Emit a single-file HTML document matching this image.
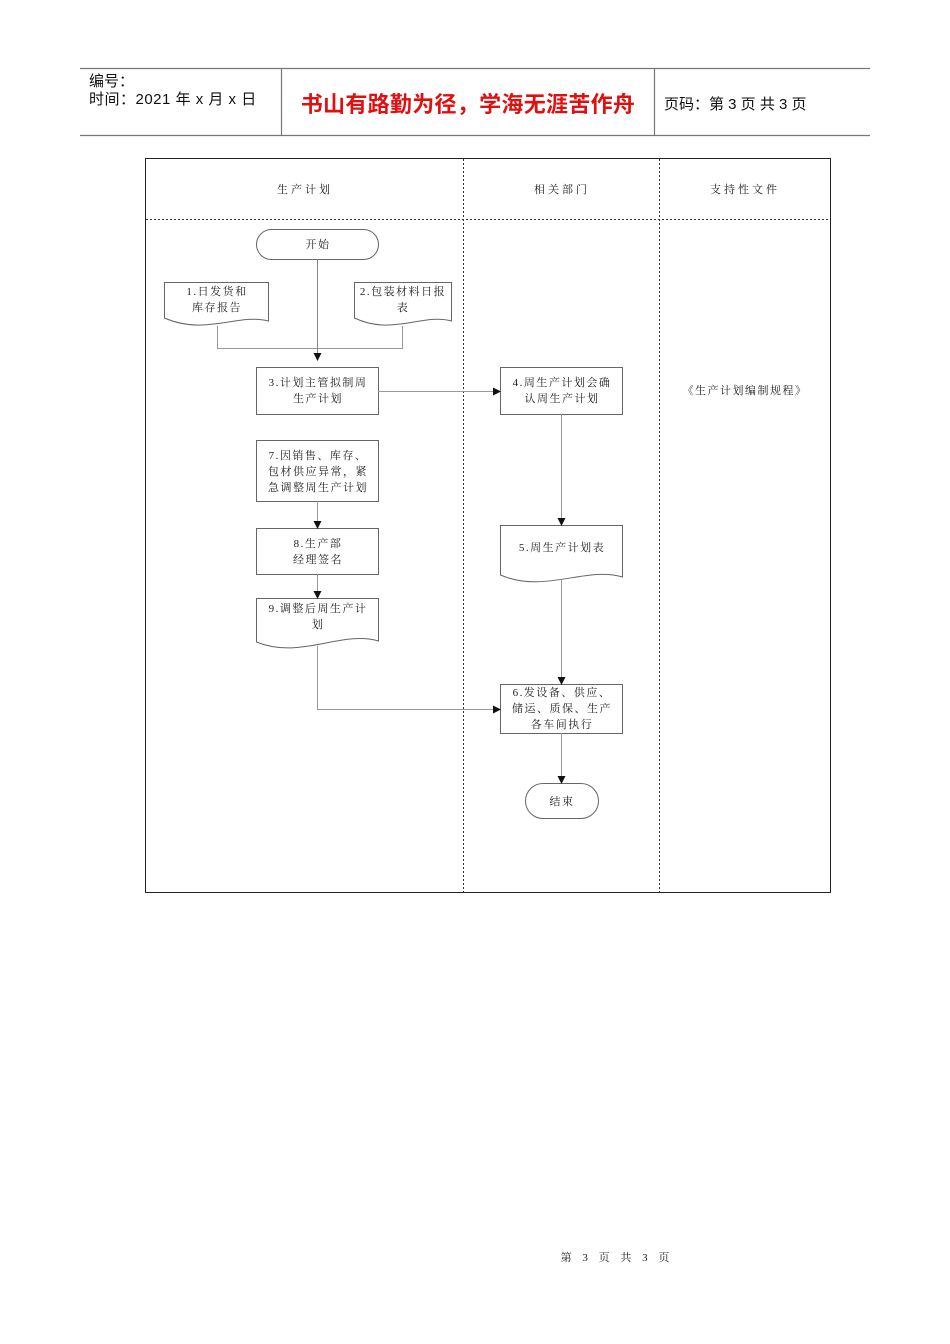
<!DOCTYPE html>
<html><head><meta charset="utf-8"><style>
html,body{margin:0;padding:0;background:#fff;width:950px;height:1344px;overflow:hidden}
svg{display:block}
.s{font-family:"Liberation Serif","Noto Serif CJK SC",serif;font-size:11px;fill:#222;letter-spacing:1.5px}
.h{font-family:"Liberation Sans","Noto Sans CJK SC",sans-serif;fill:#111}
</style></head><body>
<svg width="950" height="1344" viewBox="0 0 950 1344" xmlns="http://www.w3.org/2000/svg">
<defs><marker id="a" markerWidth="8" markerHeight="8" refX="7" refY="4" orient="auto" markerUnits="userSpaceOnUse"><path d="M0,0 L8,4 L0,8z" fill="#111"/></marker></defs>
<g stroke="#777" stroke-width="1.2">
<line x1="80" y1="68.5" x2="870" y2="68.5"/><line x1="80" y1="135.5" x2="870" y2="135.5"/>
<line x1="281.5" y1="68" x2="281.5" y2="135"/><line x1="654.5" y1="68" x2="654.5" y2="135"/>
</g>
<text class="h" x="89" y="86" font-size="15">编号：</text>
<text class="h" x="89" y="104" font-size="15" letter-spacing="0.5">时间：2021 年 x 月 x 日</text>
<text class="h" x="468" y="112" font-size="22" font-weight="bold" style="fill:#e01010" text-anchor="middle" letter-spacing="0.3">书山有路勤为径，学海无涯苦作舟</text>
<text class="h" x="664" y="109" font-size="15">页码：第 3 页  共 3 页</text>
<rect x="145.5" y="158.5" width="685" height="734" fill="none" stroke="#222"/>
<g stroke="#333" stroke-dasharray="2,2">
<line x1="146" y1="219.5" x2="830" y2="219.5"/>
<line x1="463.5" y1="159" x2="463.5" y2="892"/>
<line x1="659.5" y1="159" x2="659.5" y2="892"/>
</g>
<g class="s" text-anchor="middle" style="letter-spacing:3px">
<text x="305" y="193">生产计划</text>
<text x="562" y="193">相关部门</text>
<text x="745" y="193">支持性文件</text>
</g>
<g fill="#fff" stroke="#666" stroke-width="1">
<rect x="256.5" y="229.5" width="122" height="30" rx="15"/>
<path d="M164.5,282.5 H268.5 V321 C238,313 205,336 164.5,318 Z"/>
<path d="M354.5,282.5 H451.5 V321 C423,313 392,336 354.5,318 Z"/>
<rect x="256.5" y="367.5" width="122" height="47"/>
<rect x="500.5" y="367.5" width="122" height="47"/>
<rect x="256.5" y="440.5" width="122" height="61"/>
<rect x="256.5" y="528.5" width="122" height="46"/>
<path d="M256.5,598.5 H378.5 V641 C342,630 300,660 256.5,642 Z"/>
<path d="M500.5,525.5 H622.5 V577 C586,566 544,594 500.5,575 Z"/>
<rect x="500.5" y="684.5" width="122" height="49"/>
<rect x="525.5" y="783.5" width="73" height="35" rx="17.5"/>
</g>
<g stroke="#999" fill="none" stroke-width="1">
<path d="M217.5,326 V348.5 H402.5 V326"/>
<path d="M317.5,259 V360" stroke="#888" marker-end="url(#a)"/>
<path d="M378,391.5 H500" marker-end="url(#a)"/>
<path d="M561.5,414 V525" marker-end="url(#a)"/>
<path d="M561.5,580 V684" marker-end="url(#a)"/>
<path d="M561.5,733 V783" marker-end="url(#a)"/>
<path d="M317.5,501 V528" marker-end="url(#a)"/>
<path d="M317.5,574 V598" marker-end="url(#a)"/>
<path d="M317.5,646 V709.5 H500" marker-end="url(#a)"/>
</g>
<g class="s" text-anchor="middle">
<text x="318" y="248">开始</text>
<text x="217" y="295">1.日发货和</text><text x="217" y="311">库存报告</text>
<text x="403" y="295">2.包装材料日报</text><text x="403" y="311">表</text>
<text x="318" y="386">3.计划主管拟制周</text><text x="318" y="402">生产计划</text>
<text x="562" y="386">4.周生产计划会确</text><text x="562" y="402">认周生产计划</text>
<text x="318" y="459">7.因销售、库存、</text><text x="318" y="475">包材供应异常，紧</text><text x="318" y="491">急调整周生产计划</text>
<text x="318" y="547">8.生产部</text><text x="318" y="563">经理签名</text>
<text x="318" y="612">9.调整后周生产计</text><text x="318" y="628">划</text>
<text x="562" y="551">5.周生产计划表</text>
<text x="562" y="696">6.发设备、供应、</text><text x="562" y="712">储运、质保、生产</text><text x="562" y="728">各车间执行</text>
<text x="562" y="805">结束</text>
<text x="745" y="394">《生产计划编制规程》</text>
</g>
<text class="s" x="617" y="1261" font-size="13" text-anchor="middle" style="letter-spacing:4px">第 3 页 共 3 页</text>
</svg>
</body></html>
